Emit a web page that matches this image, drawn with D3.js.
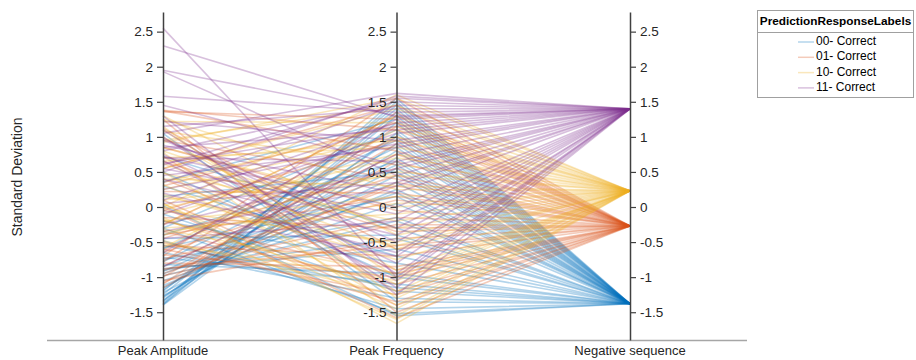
<!DOCTYPE html>
<html>
<head>
<meta charset="utf-8">
<script src="https://cdn.jsdelivr.net/npm/d3@7/dist/d3.min.js"></script>
<style>
  html, body { margin: 0; padding: 0; background: #fff; }
  svg { display: block; font-family: Arial, "Liberation Sans", sans-serif; }
</style>
</head>
<body>
<svg id="chart" width="916" height="360"></svg>
<script>
// ---------------- data ----------------
const dimensions = ["Peak Amplitude", "Peak Frequency", "Negative sequence"];
const groupLabels = ["00- Correct", "01- Correct", "10- Correct", "11- Correct"];
const groupColors = ["#0072BD", "#D95319", "#EDB120", "#7E2F8E"];
const tickValues = [-1.5, -1, -0.5, 0, 0.5, 1, 1.5, 2, 2.5];
const negSeq = [-1.38, -0.27, 0.23, 1.40];

const peakAmp00 = [-1.40, -1.38, -1.36, -1.33, -1.30, -1.27, -1.25, -1.22, -1.18, -1.12, -1.05, -0.98, -0.92, -0.88, -0.85, -0.82, -0.78, -0.72, -0.65, -0.58, -0.48, -0.45, -0.30, -0.30, -0.20, -0.10, 0.02, 0.15, 0.36, 0.50, 0.72, 1.05,
                   -1.39, -1.34, -1.28, -1.20, -1.15, -0.95, -0.90, -0.75, -0.60, -0.55, -0.40, 0.30];
const peakFreq00 = [1.05, 1.35, 1.50, 0.90, 1.20, 0.70, 1.45, 0.45, 1.00, 0.25, 0.05, -0.20, 0.60, -0.60, 0.35, -0.95, 0.85, -1.10, -1.30, 0.15, -1.45, -0.40, -1.52, 1.10, -0.80, -1.20, -1.55, 0.50, 1.25, -1.00, -0.30, -1.35,
                    1.30, 1.55, 0.80, 1.40, 0.55, 0.20, -0.45, -0.15, 0.95, -1.15, 0.65, -0.70];

const peakAmp01 = [1.38, 1.36, 1.12, 0.95, 0.72, 0.55, 0.40, 0.22, 0.10, -0.05, -0.15, -0.25, -0.35, -0.45, -0.55, -0.62, -0.68, -0.74, -0.80, -0.85, -0.90, -0.95, -1.00, -1.05, -1.10, -1.15, -0.70, -0.60, 0.85, 1.25,
                   1.37, 0.65, 0.30, -0.20, -0.40, -0.65, -0.78, -0.88, -0.98, -1.08, -0.50, 0.00];
const peakFreq01 = [1.10, 1.25, -0.60, 0.40, -1.20, 1.45, -0.90, 0.20, -1.40, 0.95, -0.30, 1.30, -1.10, 0.55, -0.70, 1.00, -1.00, 0.10, -0.85, 0.75, -0.15, 0.30, 0.90, -0.45, 1.15, 0.65, 1.55, -1.25, -0.05, -1.50,
                    0.80, -0.35, 1.20, -0.95, 0.15, 0.45, 1.35, -0.55, -0.25, 0.35, -1.35, -1.58];

const peakAmp10 = [1.30, 1.22, 1.15, 1.08, 1.00, 0.92, 0.85, 0.78, 0.70, 0.62, 0.55, 0.48, 0.40, 0.32, 0.25, 0.18, 0.10, 0.05, 0.00, -0.05, -0.10, -0.15, -0.20, -0.25, -0.32, -0.40, -0.48, -0.58, 0.05, -0.30,
                   1.25, 1.10, 0.95, 0.80, 0.65, 0.50, 0.35, 0.15, -0.02, -0.18, -0.35, -0.52];
const peakFreq10 = [-0.40, 1.20, -1.30, 0.60, -0.90, 1.55, 0.00, -1.55, 0.85, -0.60, 1.40, -0.20, 0.30, -1.10, 1.00, -0.75, 0.45, -1.45, 1.60, -0.50, 0.70, -1.60, 0.15, 1.30, -0.95, 0.50, -1.25, 1.10, -1.66, -0.10,
                    0.25, -1.00, 1.45, -0.30, 0.95, -1.40, 1.15, -0.55, 0.75, -1.20, 0.05, -1.05];

const peakAmp11 = [2.55, 2.30, 1.95, 1.93, 1.58, 1.30, 1.22, 1.05, 0.95, 0.88, 0.80, 0.75, 0.70, 0.66, 0.62, 0.55, 0.45, 0.35, 0.20, 0.05, -0.10, -0.25, -0.45, -0.65, -0.85, 1.10, 0.50,
                   1.45, 1.15, 0.98, 0.85, 0.72, 0.60, 0.40, 0.25, 0.10, -0.05, -0.35, 1.00];
const peakFreq11 = [-1.00, 1.28, 1.30, 0.45, 1.35, -1.25, 0.95, 1.62, -0.30, 0.20, 1.50, -0.80, 0.65, -1.05, 1.15, -0.10, 0.85, 1.45, -0.65, 0.35, 1.05, 0.55, -0.20, 1.25, 0.75, -0.95, 1.58,
                    0.60, 1.40, -0.50, 1.10, 0.00, 1.55, -0.40, 0.90, 1.20, -0.70, 0.30, -1.15];

const ampByGroup = [peakAmp00, peakAmp01, peakAmp10, peakAmp11];
const freqByGroup = [peakFreq00, peakFreq01, peakFreq10, peakFreq11];

const rows = [];
ampByGroup.forEach((amps, g) => {
  amps.forEach((a, i) => rows.push({ g, values: [a, freqByGroup[g][i], negSeq[g]] }));
});

// ---------------- drawing ----------------
const svg = d3.select("#chart");
const x = d3.scalePoint().domain(dimensions).range([163, 630]);
const y = d3.scaleLinear().domain([-1.896, 2.78]).range([340, 12]);

// baseline
svg.append("line")
  .attr("x1", 47).attr("x2", 747).attr("y1", 340.5).attr("y2", 340.5)
  .attr("stroke", "#a6a6a6").attr("stroke-width", 1.5);

// polylines
const line = d3.line().x((d, i) => x(dimensions[i])).y(d => y(d));
svg.append("g").selectAll("path").data(rows).join("path")
  .attr("d", d => line(d.values))
  .attr("fill", "none")
  .attr("stroke", d => groupColors[d.g])
  .attr("stroke-opacity", 0.3)
  .attr("stroke-width", 1.6);

// axes
const fmt = d => String(d);
dimensions.forEach((dim, i) => {
  const ax = i < 2 ? d3.axisLeft(y) : d3.axisRight(y);
  ax.tickValues(tickValues).tickFormat(fmt).tickSize(6).tickPadding(4).tickSizeOuter(0);
  const g = svg.append("g").attr("transform", `translate(${x(dim)},0)`).call(ax);
  g.select(".domain").attr("stroke", "#404040").attr("stroke-width", 1.5);
  g.selectAll(".tick line").attr("stroke", "#404040").attr("stroke-width", 1.2);
  g.selectAll(".tick text").attr("fill", "#262626").attr("font-size", 13.5)
    .attr("font-family", "Arial, 'Liberation Sans', sans-serif");
  svg.append("text")
    .attr("x", x(dim)).attr("y", 352)
    .attr("text-anchor", "middle").attr("dominant-baseline", "middle")
    .attr("font-size", 13).attr("fill", "#262626")
    .text(dim);
});

// y label
svg.append("text")
  .attr("transform", "translate(18,177) rotate(-90)")
  .attr("text-anchor", "middle").attr("dominant-baseline", "middle")
  .attr("font-size", 14).attr("fill", "#262626")
  .text("Standard Deviation");

// legend
const lg = svg.append("g");
lg.append("rect").attr("x", 757.5).attr("y", 10.5).attr("width", 156).attr("height", 87)
  .attr("fill", "#fff").attr("stroke", "#a0a0a0").attr("stroke-width", 1);
lg.append("line").attr("x1", 757.5).attr("x2", 913.5).attr("y1", 32.5).attr("y2", 32.5)
  .attr("stroke", "#a0a0a0").attr("stroke-width", 1);
lg.append("text").attr("x", 835.5).attr("y", 22)
  .attr("text-anchor", "middle").attr("dominant-baseline", "middle")
  .attr("font-size", 11.8).attr("font-weight", "bold").attr("fill", "#000")
  .text("PredictionResponseLabels");
groupLabels.forEach((lab, i) => {
  const yy = 42 + i * 15.3;
  lg.append("line").attr("x1", 798).attr("x2", 814).attr("y1", yy).attr("y2", yy)
    .attr("stroke", groupColors[i]).attr("stroke-opacity", 0.3).attr("stroke-width", 1.5);
  lg.append("text").attr("x", 816).attr("y", yy)
    .attr("dominant-baseline", "middle").attr("font-size", 12).attr("fill", "#000")
    .text(lab);
});
</script>
</body>
</html>
